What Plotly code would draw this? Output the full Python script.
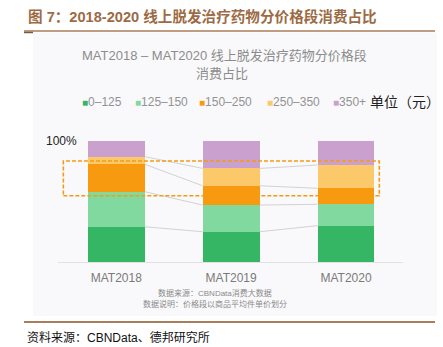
import plotly.graph_objects as go

# ---- data ----
periods = ["MAT2018", "MAT2019", "MAT2020"]
price_bands = ["0–125", "125–150", "150–250", "250–350", "350+"]
share_0_125 = [29.3, 25.2, 30.2]
share_125_150 = [28.9, 22.0, 17.6]
share_150_250 = [22.6, 15.9, 13.2]
share_250_350 = [6.3, 14.3, 19.2]
share_350_plus = [12.9, 22.6, 19.8]
band_colors = ["#35b665", "#82d9a0", "#f79a10", "#fbc86a", "#c9a0ce"]

series = [share_0_125, share_125_150, share_150_250, share_250_350, share_350_plus]

W, H = 443, 347
FONT = "Liberation Sans, Noto Sans CJK SC, sans-serif"
BROWN = "#a87d5a"
BAR_W = 0.496

def px(x):
    return x / W

def py(y):
    return 1 - y / H

xs = list(range(len(periods)))
fig = go.Figure()
for name, vals, col in zip(price_bands, series, band_colors):
    fig.add_trace(go.Bar(x=xs, y=vals, name=name, width=BAR_W,
                         marker=dict(color=col, line=dict(width=0)),
                         showlegend=False))

shapes = []
# light panel behind the inner chart
shapes.append(dict(type="rect", xref="paper", yref="paper",
                   x0=px(33), x1=px(437), y0=py(316), y1=py(32.5),
                   fillcolor="#f9f9fb", line=dict(width=0), layer="below"))
# header and footer rules
shapes.append(dict(type="line", xref="paper", yref="paper",
                   x0=px(24), x1=px(435), y0=py(31), y1=py(31),
                   line=dict(color=BROWN, width=1.5)))
shapes.append(dict(type="line", xref="paper", yref="paper",
                   x0=px(24), x1=px(33), y0=py(32.5), y1=py(32.5),
                   line=dict(color="#7a5a40", width=1.5)))
shapes.append(dict(type="line", xref="paper", yref="paper",
                   x0=px(24), x1=px(435), y0=py(322), y1=py(322),
                   line=dict(color=BROWN, width=2.2)))

# connector lines between neighbouring bars at each stack boundary
cum = []
for i in range(len(periods)):
    c, acc = [], 0.0
    for s in series[:-1]:
        acc += s[i]
        c.append(acc)
    cum.append(c)
for i in range(len(periods) - 1):
    for k in range(len(series) - 1):
        shapes.append(dict(type="line", xref="x", yref="y",
                           x0=i + BAR_W / 2, x1=i + 1 - BAR_W / 2,
                           y0=cum[i][k], y1=cum[i + 1][k],
                           line=dict(color="#d2d2d2", width=1), layer="below"))

# dashed highlight box around the mid-price bands
shapes.append(dict(type="rect", xref="x", yref="y",
                   x0=-0.461, x1=2.29, y0=54.9, y1=83.5,
                   line=dict(color="#f39c12", width=1.6, dash="4px,2px"),
                   fillcolor="rgba(0,0,0,0)", layer="above"))

annotations = []
annotations.append(dict(text="<b>图 7：2018-2020 线上脱发治疗药物分价格段消费占比</b>",
                        xref="paper", yref="paper", x=px(26), y=py(16.5),
                        xanchor="left", yanchor="middle", showarrow=False,
                        font=dict(size=14.6, color="#9c6b45", family=FONT)))
annotations.append(dict(text="MAT2018 – MAT2020 线上脱发治疗药物分价格段",
                        xref="paper", yref="paper", x=px(224), y=py(56),
                        xanchor="center", yanchor="middle", showarrow=False,
                        font=dict(size=13, color="#8c8c8c", family=FONT)))
annotations.append(dict(text="消费占比",
                        xref="paper", yref="paper", x=px(222), y=py(74),
                        xanchor="center", yanchor="middle", showarrow=False,
                        font=dict(size=13, color="#8c8c8c", family=FONT)))

# legend row
legend_x = [80, 133, 196.5, 264.5, 330.5]
for lx, name, col in zip(legend_x, price_bands, band_colors):
    annotations.append(dict(
        text=f"<span style='color:{col};font-size:10px'>■</span>{name}",
        xref="paper", yref="paper", x=px(lx), y=py(102),
        xanchor="left", yanchor="middle", showarrow=False,
        font=dict(size=12, color="#939393", family=FONT)))
annotations.append(dict(text="单位（元）", xref="paper", yref="paper",
                        x=px(368), y=py(102), xanchor="left", yanchor="middle",
                        showarrow=False,
                        font=dict(size=14, color="#222222", family=FONT)))

annotations.append(dict(text="100%", xref="paper", yref="y", x=px(79), y=100,
                        xanchor="right", yanchor="middle", showarrow=False,
                        font=dict(size=12, color="#222222", family=FONT)))

annotations.append(dict(text="数据来源：CBNData消费大数据", xref="paper", yref="paper",
                        x=px(215), y=py(293.3), xanchor="center", yanchor="middle",
                        showarrow=False, font=dict(size=8, color="#8a8a8a", family=FONT)))
annotations.append(dict(text="数据说明：价格段以商品平均件单价划分", xref="paper", yref="paper",
                        x=px(214.5), y=py(304.3), xanchor="center", yanchor="middle",
                        showarrow=False, font=dict(size=8, color="#8a8a8a", family=FONT)))
annotations.append(dict(text="资料来源：CBNData、德邦研究所", xref="paper", yref="paper",
                        x=px(25), y=py(337), xanchor="left", yanchor="middle",
                        showarrow=False, font=dict(size=12, color="#111111", family=FONT)))

# axes mapped so that bar centres land at fixed horizontal positions
unit = 114.85
c0 = 116.3
x_left, x_right = 58, 403
fig.update_layout(
    width=W, height=H, margin=dict(l=0, r=0, t=0, b=0),
    paper_bgcolor="white", plot_bgcolor="rgba(0,0,0,0)",
    barmode="stack", bargap=0,
    shapes=shapes, annotations=annotations,
    font=dict(family=FONT),
    xaxis=dict(domain=[px(x_left), px(x_right)],
               range=[(x_left - c0) / unit, (x_right - c0) / unit],
               tickmode="array", tickvals=xs, ticktext=periods,
               showgrid=False, zeroline=False, showline=True,
               linecolor="#e2e2e2", linewidth=1, ticks="",
               ticklabelstandoff=4,
               tickfont=dict(size=12, color="#7a7a7a", family=FONT)),
    yaxis=dict(domain=[py(262.3), py(141)], range=[0, 100],
               showgrid=False, zeroline=False, showticklabels=False,
               showline=False),
)

fig.write_html("out.html")
